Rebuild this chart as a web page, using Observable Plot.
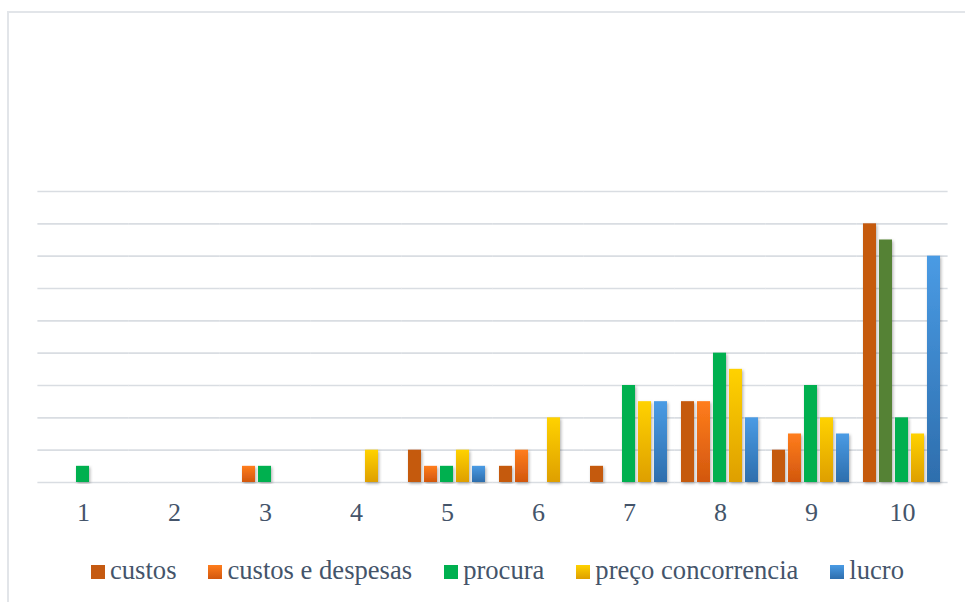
<!DOCTYPE html>
<html>
<head>
<meta charset="utf-8">
<script src="https://cdn.jsdelivr.net/npm/d3@7"></script>
<script src="https://cdn.jsdelivr.net/npm/@observablehq/plot@0.6"></script>
<style>
  html, body { margin: 0; padding: 0; background: #fff; }
  #wrap {
    position: relative; width: 965px; height: 602px; overflow: hidden;
    font-family: 'Liberation Serif', serif; color: #44546A;
  }
  #frame {
    position: absolute; left: 7px; top: 11px; width: 980px; height: 620px;
    border-top: 2px solid #E2E5E9; border-left: 2px solid #E2E5E9;
  }
  #chart { position: absolute; left: 0; top: 0; }
  #legend {
    position: absolute; left: 91px; top: 555px; display: flex; gap: 32px;
    font-size: 26.6px; line-height: 30px; white-space: nowrap;
  }
  #legend .sw { display: inline-block; width: 14px; height: 14px; margin-right: 5px; }
</style>
</head>
<body>
<div id="wrap">
  <div id="frame"></div>
  <div id="chart"></div>
  <div id="legend"></div>
</div>
<script>
// Categories (score 1–10) and the count for each series
const categories = ["1", "2", "3", "4", "5", "6", "7", "8", "9", "10"];
const seriesNames = ["custos", "custos e despesas", "procura", "preço concorrencia", "lucro"];

const custos            = [0, 0, 0, 0, 2, 1, 1, 5, 2, 16];
const custosDespesas    = [0, 0, 1, 0, 1, 2, 0, 5, 3, 15];
const procura           = [1, 0, 1, 0, 1, 0, 6, 8, 6, 4];
const precoConcorrencia = [0, 0, 0, 2, 2, 4, 5, 7, 4, 3];
const lucro             = [0, 0, 0, 0, 1, 0, 5, 4, 3, 14];

const seriesValues = [custos, custosDespesas, procura, precoConcorrencia, lucro];

// Series fills: flat colours or vertical gradients (top → bottom)
const seriesStyles = [
  {id: "g-custos",   top: "#C55A11", bottom: "#C55A11"},
  {id: "g-despesas", top: "#FF7D1C", bottom: "#D2570E"},
  {id: "g-procura",  top: "#00B050", bottom: "#00B050"},
  {id: "g-preco",    top: "#FFD200", bottom: "#DE9F00"},
  {id: "g-lucro",    top: "#4A9BE4", bottom: "#2E6EAD"}
];

// Single data point drawn in its own colour
const pointOverrides = [{category: "10", series: "custos e despesas", color: "#548235"}];

// Long table for the library (zero rows keep every facet, and its gridlines, present)
const rows = [];
seriesNames.forEach((s, si) => {
  categories.forEach((c, ci) => {
    const o = pointOverrides.find(p => p.category === c && p.series === s);
    rows.push({
      category: c,
      series: s,
      value: seriesValues[si][ci],
      fill: o ? o.color : `url(#${seriesStyles[si].id})`
    });
  });
});

const chart = Plot.plot({
  width: 965,
  height: 540,
  marginLeft: 38,
  marginRight: 17,
  marginTop: 191,
  marginBottom: 58,
  style: {
    fontFamily: "'Liberation Serif', serif",
    fontSize: "26px",
    color: "#44546A",
    background: "transparent",
    overflow: "visible"
  },
  fx: {domain: categories, paddingInner: 0.12, paddingOuter: 0.06, label: null,
       axis: "bottom", tickSize: 0, tickPadding: 20},
  x: {domain: seriesNames, paddingInner: 0.16, paddingOuter: 0.04, axis: null},
  y: {domain: [0, 18], axis: null},
  color: {type: "identity"},
  marks: [
    Plot.ruleY(d3.range(0, 19, 2), {stroke: "#D9DDE2", strokeWidth: 1.6, insetLeft: -5.6, insetRight: -5.6}),
    Plot.barY(rows, {fx: "category", x: "series", y: "value", fill: "fill"})
  ]
});

// Gradients and a soft drop shadow for the bars
const svg = d3.select(chart);
const defs = svg.insert("defs", ":first-child");
seriesStyles.forEach(st => {
  const g = defs.append("linearGradient").attr("id", st.id)
    .attr("x1", 0).attr("y1", 0).attr("x2", 0).attr("y2", 1);
  g.append("stop").attr("offset", "0%").attr("stop-color", st.top);
  g.append("stop").attr("offset", "100%").attr("stop-color", st.bottom);
});
const f = defs.append("filter").attr("id", "bar-shadow")
  .attr("x", "-30%").attr("y", "-5%").attr("width", "160%").attr("height", "115%");
f.append("feDropShadow").attr("dx", 1.2).attr("dy", 1.5).attr("stdDeviation", 1.6)
  .attr("flood-color", "#000").attr("flood-opacity", 0.3);
svg.selectAll("g[aria-label='bar'] rect").attr("filter", "url(#bar-shadow)");

document.getElementById("chart").appendChild(chart);

// Legend
const legend = d3.select("#legend");
seriesNames.forEach((s, i) => {
  const st = seriesStyles[i];
  const item = legend.append("span").attr("class", "item");
  item.append("span").attr("class", "sw")
    .style("background", `linear-gradient(${st.top}, ${st.bottom})`);
  item.append("span").text(s);
});
</script>
</body>
</html>
